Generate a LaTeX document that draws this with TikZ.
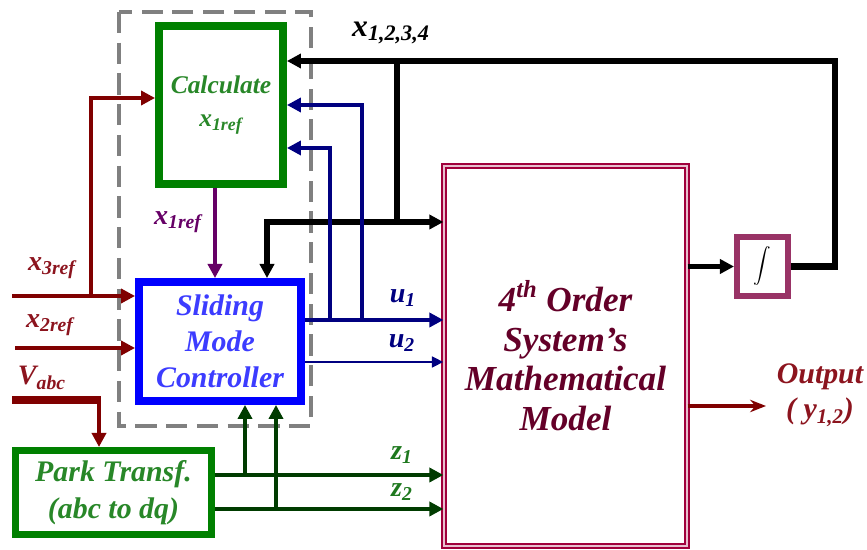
\documentclass[tikz,border=0pt]{standalone}
\usepackage{fontspec}
\setmainfont{Liberation Serif}
\usetikzlibrary{arrows.meta}
\definecolor{boxgreen}{RGB}{0,128,0}
\definecolor{txtgreen}{RGB}{40,135,40}
\definecolor{smcblue}{RGB}{0,0,255}
\definecolor{smctext}{RGB}{60,60,255}
\definecolor{navy}{RGB}{0,0,128}
\definecolor{darkred}{RGB}{128,0,0}
\definecolor{lblred}{RGB}{140,20,30}
\definecolor{zgreen}{RGB}{0,60,0}
\definecolor{zlabel}{RGB}{30,120,30}
\definecolor{purp}{RGB}{102,0,102}
\definecolor{crimson}{RGB}{160,0,60}
\definecolor{integcol}{RGB}{153,51,102}
\definecolor{modeltext}{RGB}{100,0,40}
\begin{document}
\begin{tikzpicture}[x=0.02cm,y=-0.02cm,
  block/.style={draw,inner sep=0pt,align=center},
  lbl/.style={inner sep=0pt,font=\bfseries\itshape\fontsize{16}{18}\selectfont},
  tip/.style={-{Triangle[length=8pt,width=8pt]}},
  smalltip/.style={-{Triangle[length=6.5pt,width=6pt]}},
  fat/.style={line width=3.5pt}]
\useasboundingbox (0,0) rectangle (867,550);
\draw[gray,line width=2.8pt,dash pattern=on 12pt off 5.5pt] (119,12) rectangle (311,426);

\node[block,draw=boxgreen,line width=4.5pt,minimum width=2.48cm,minimum height=3.16cm,
  text=txtgreen,font=\bfseries\itshape\fontsize{14.5}{19}\selectfont] (calc) at (221,105)
  {Calculate\\x\textsubscript{1ref}};
\node[block,draw=smcblue,line width=4.5pt,minimum width=3.24cm,minimum height=2.38cm,
  text=smctext,font=\bfseries\itshape\fontsize{17}{20.5}\selectfont] (smc) at (220,341.5)
  {Sliding\\Mode\\Controller};
\node[block,draw=boxgreen,line width=4pt,minimum width=3.92cm,minimum height=1.68cm,
  text=txtgreen,font=\bfseries\itshape\fontsize{17}{21}\selectfont] (park) at (113.5,492.5)
  {Park Transf.\\(abc to dq)};
\node[block,draw=crimson,line width=0.7pt,double=crimson!25,double distance=1.6pt,
  minimum width=4.86cm,minimum height=7.6cm,
  text=modeltext,font=\bfseries\itshape\fontsize{20}{22.7}\selectfont] (model) at (565.5,356)
  {4\textsuperscript{th} Order\\System’s\\Mathematical\\Model};
\node[block,draw=integcol,line width=3.4pt,minimum width=1.02cm,minimum height=1.18cm]
  (integ) at (762.5,266.5) {$\displaystyle\int$};

\coordinate (fbr) at (835,61);
\coordinate (xtop) at (397,61);
\coordinate (xjn) at (397,222);
\coordinate (xsmc) at (267,222);
\draw[fat,tip] (integ.east) -| (fbr) -- (calc.east |- fbr);
\draw[fat] (xtop) -- (xjn);
\draw[fat,tip] (xjn) -- (model.west |- xjn);
\draw[fat,tip] (xjn) -| (xsmc |- smc.north);
\draw[line width=2.5pt,tip] (model.east |- integ.west) -- (integ.west);

\coordinate (pu) at (215,0);
\draw[purp,line width=2.5pt,tip] (pu |- calc.south) -- (pu |- smc.north);

\coordinate (x3in) at (12,296);
\coordinate (x3j) at (91,296);
\coordinate (x3up) at (91,98);
\draw[darkred,line width=2.4pt,tip] (x3in) -- (x3in -| smc.west);
\draw[darkred,line width=2.4pt,tip] (x3j) -- (x3up) -- (x3up -| calc.west);
\coordinate (x2in) at (15,348);
\draw[darkred,line width=2pt,tip] (x2in) -- (x2in -| smc.west);
\coordinate (vin) at (12,400);
\coordinate (vj) at (99,400);
\draw[darkred,line width=4pt] (vin) -- ([xshift=1pt]vj);
\draw[darkred,line width=2pt,tip] (vj) -- (vj |- park.north);

\coordinate (u1a) at (362,320);
\coordinate (u1b) at (330,320);
\coordinate (u2) at (305,362);
\draw[navy,line width=2.6pt,tip] (u1a -| smc.east) -- (u1a -| model.west);
\draw[navy,line width=2.6pt,tip] (u1a) |- (calc.east);
\draw[navy,line width=2.6pt,tip] (u1b) |- ([yshift=-0.86cm]calc.east);
\draw[navy,line width=1.7pt,smalltip] (u2 -| smc.east) -- (u2 -| model.west);

\coordinate (z1j) at (245,475);
\coordinate (z2j) at (276,509);
\draw[zgreen,line width=2.6pt,tip] (z1j -| park.east) -- (z1j -| model.west);
\draw[zgreen,line width=2.6pt,tip] (z2j -| park.east) -- (z2j -| model.west);
\draw[zgreen,line width=2.6pt,tip] (z1j) -- (z1j |- smc.south);
\draw[zgreen,line width=2.6pt,tip] (z2j) -- (z2j |- smc.south);

\coordinate (outp) at (766,406);
\draw[darkred,line width=2.5pt,-{Stealth[length=9pt,width=7pt]}] (outp -| model.east) -- (outp);

\node[lbl,font=\bfseries\itshape\fontsize{18}{20}\selectfont] (lx) at (391,33) {x\textsubscript{1,2,3,4}};
\node[lbl,text=purp] (lx1) at (178,222) {x\textsubscript{1ref}};
\node[lbl,text=lblred] (lx3) at (52,268) {x\textsubscript{3ref}};
\node[lbl,text=lblred] (lx2) at (50,325) {x\textsubscript{2ref}};
\node[lbl,text=lblred] (lv) at (42,378) {V\textsubscript{abc}};
\node[lbl,text=navy] (lu1) at (403,298) {u\textsubscript{1}};
\node[lbl,text=navy] (lu2) at (402,343) {u\textsubscript{2}};
\node[lbl,text=zlabel] (lz1) at (402,455) {z\textsubscript{1}};
\node[lbl,text=zlabel] (lz2) at (402,492) {z\textsubscript{2}};
\node[lbl,text=lblred,align=center,font=\bfseries\itshape\fontsize{17}{20}\selectfont]
  (lout) at (820,395) {Output\\( y\textsubscript{1,2})};
\end{tikzpicture}
\end{document}
